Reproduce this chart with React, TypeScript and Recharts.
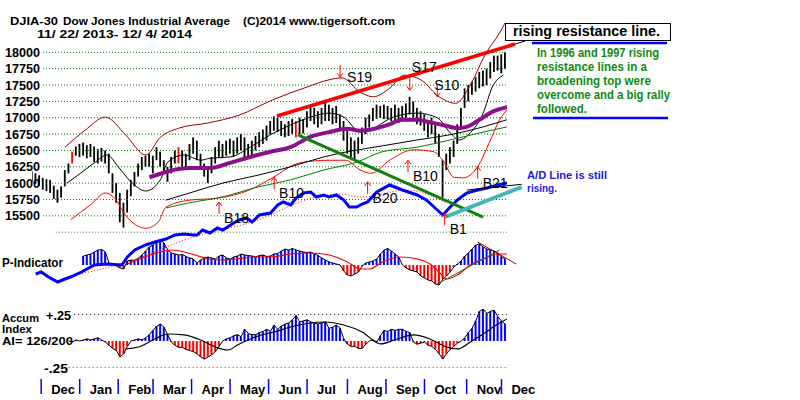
import { ComposedChart, Bar, Line, XAxis, YAxis, ReferenceLine, ReferenceDot } from 'recharts'

// DJIA-30 daily sessions, day 0 = 11/22/2013 ... day 259 = 12/4/2014
const LAST_DAY = 259

const monthStartDay = [5, 26, 47, 66, 87, 108, 129, 150, 172, 193, 214, 237, 256]
const monthLabels = ['Dec', 'Jan', 'Feb', 'Mar', 'Apr', 'May', 'Jun', 'Jul', 'Aug', 'Sep', 'Oct', 'Nov', 'Dec']

// high / low bars, one every 2nd session from day 0
const priceHigh = [
  16180, 16150, 16120, 16080, 16060, 16050, 15960, 15900, 15950, 16200,
  16300, 16480, 16560, 16600, 16620, 16580, 16600, 16560, 16520, 16540,
  16500, 16450, 16150, 16000, 15850, 15700, 15900, 16050, 16170, 16300,
  16400, 16420, 16450, 16420, 16550, 16480, 16350, 16250, 16400, 16500,
  16550, 16500, 16450, 16600, 16700, 16650, 16450, 16300, 16200, 16400,
  16550, 16650, 16600, 16650, 16680, 16650, 16700, 16750, 16700, 16600,
  16650, 16720, 16780, 16820, 16880, 16950, 17020, 17000, 16950, 16900,
  16950, 16980, 16950, 17000, 16980, 17100, 17200, 17150, 17100, 17150,
  17230, 17200, 17150, 17180, 17050, 16950, 16800, 16700, 16650, 16700,
  16850, 17000, 17050, 17150, 17200, 17180, 17200, 17180, 17150, 17200,
  17150, 17180, 17220, 17320, 17250, 17150, 17100, 17050, 16950, 17000,
  16900, 16750, 16350, 16450, 16550, 16650, 16900, 17150, 17450, 17500,
  17550, 17620, 17700, 17720, 17750, 17850, 17950, 17950, 17970, 18000,
]
const priceLow = [
  16020, 15990, 15960, 15900, 15880, 15850, 15760, 15700, 15780, 15950,
  16150, 16300, 16420, 16400, 16420, 16380, 16400, 16320, 16300, 16330,
  16300, 16150, 15850, 15700, 15400, 15320, 15550, 15800, 15950, 16100,
  16200, 16250, 16250, 16150, 16350, 16250, 16150, 16020, 16150, 16300,
  16300, 16250, 16200, 16350, 16450, 16350, 16200, 16100, 16000, 16150,
  16300, 16400, 16380, 16420, 16450, 16400, 16450, 16500, 16350, 16380,
  16420, 16500, 16550, 16600, 16650, 16750, 16800, 16780, 16720, 16700,
  16720, 16750, 16700, 16750, 16760, 16850, 16950, 16900, 16850, 16900,
  16950, 16950, 16900, 16920, 16800, 16650, 16450, 16400, 16350, 16450,
  16600, 16750, 16850, 16950, 16980, 17000, 16980, 16980, 16950, 16950,
  16920, 16950, 16980, 17050, 17000, 16900, 16880, 16800, 16700, 16750,
  16600, 16400, 15780, 16200, 16300, 16400, 16600, 16850, 17150, 17250,
  17350, 17400, 17450, 17480, 17500, 17600, 17700, 17720, 17680, 17750,
]
const redBarDays = [22, 80, 144]

const priceGrid = [18000, 17750, 17500, 17250, 17000, 16750, 16500, 16250, 16000, 15750, 15500]

// [day, value]
const upperBand: [number, number][] = [
  [18, 16550], [29, 16810], [40, 17010], [51, 16740], [62, 16430], [70, 16700], [80, 16840],
  [96, 16920], [113, 17040], [131, 17270], [150, 17470], [162, 17580], [169, 17610], [179, 17390],
  [186, 17320], [195, 17450], [203, 17650], [212, 17580], [222, 17320], [231, 17220], [239, 17500],
  [247, 17960], [255, 18300], [258, 18450],
]
const lowerBand: [number, number][] = [
  [21, 15440], [32, 15670], [40, 15850], [45, 15770], [51, 15510], [62, 15310], [69, 15410],
  [73, 15630], [86, 15740], [101, 15770], [119, 15900], [131, 16080], [146, 16310], [162, 16350],
  [171, 16350], [179, 16200], [185, 16150], [195, 16350], [208, 16510], [219, 16480], [224, 16350],
  [230, 16090], [235, 16080], [243, 16250], [250, 16660], [255, 16970], [259, 17120],
]
const shortMA: [number, number][] = [
  [19, 16000], [25, 16120], [34, 16310], [41, 16430], [47, 16250], [54, 16020], [62, 15880],
  [70, 16050], [74, 16320], [83, 16430], [92, 16350], [97, 16380], [108, 16400], [119, 16550],
  [130, 16740], [141, 16890], [152, 17010], [162, 17070], [170, 17010], [179, 16780], [184, 16810],
  [197, 17010], [210, 17070], [221, 17000], [228, 16770], [233, 16660], [239, 16770], [246, 17070],
  [251, 17470], [257, 17650],
]
const midMA: [number, number][] = [
  [64, 16090], [86, 16230], [97, 16230], [108, 16310], [119, 16400], [130, 16480], [141, 16550],
  [152, 16710], [162, 16780], [172, 16830], [179, 16800], [194, 16890], [202, 16970], [210, 16970],
  [217, 16930], [224, 16890], [232, 16840], [237, 16860], [244, 16970], [251, 17090], [259, 17160],
]
const longBlack: [number, number][] = [
  [73, 15740], [86, 15850], [104, 16000], [123, 16120], [141, 16250], [159, 16400], [172, 16480],
  [191, 16570], [210, 16660], [228, 16740], [246, 16860], [259, 16970],
]
const longGreen: [number, number][] = [
  [73, 15620], [86, 15700], [104, 15790], [123, 15940], [141, 16050], [159, 16200], [177, 16320],
  [191, 16480], [210, 16550], [228, 16660], [246, 16780], [259, 16860],
]

// NYSE A/D line (relative units) and its moving average
const adLine: [number, number][] = [
  [2, -47], [5, -46], [9, -48.5], [14, -51], [18, -49.5], [21, -48.5], [27, -46], [34, -42.5],
  [41, -42], [49, -42.5], [52, -38.5], [56, -35], [62, -32.5], [67, -31], [73, -29.5], [78, -27.5],
  [83, -27], [88, -27.5], [90, -27.5], [93, -25], [97, -26.5], [101, -24], [104, -25], [110, -21.5],
  [113, -20], [117, -19], [120, -21], [124, -17.5], [130, -16.5], [134, -12.5], [137, -11],
  [141, -12.5], [144, -9], [148, -6.5], [152, -6], [155, -8.5], [159, -7.5], [162, -8.5], [166, -7.5],
  [170, -10], [173, -13.5], [177, -13.5], [180, -12], [183, -11], [188, -6], [195, -2.5], [202, -5],
  [210, -7.5], [215, -10], [221, -15], [224, -17.5], [228, -13.5], [232, -10], [237, -6.5], [243, -5],
  [248, -4], [254, -2.5], [259, -1.5],
]
const adAverage: [number, number][] = [
  [21, -48], [52, -41], [88, -28.5], [120, -21], [155, -8.5], [168, -7], [179, -8.5], [205, -5],
  [219, -8.5], [226, -11.5],
]

// P-Indicator, every 2nd session from day 28
const P_FIRST_DAY = 28
const pIndicator = [
  90, 100, 110, 130, 150, 155, 130, 20, 5, -10,
  -30, -40, 40, 50, 45, 70, 100, 140, 180, 200,
  230, 250, 220, 150, 120, 110, 100, 105, 85, 70,
  60, 20, 50, 70, 80, 70, 60, 90, 100, 70,
  60, 80, 90, 110, 100, 95, 90, 80, 95, 100,
  85, 90, 110, 115, 140, 160, 150, 165, 150, 140,
  130, 125, 130, 110, 95, 70, 50, 30, 20, 10,
  0, -60, -100, -110, -90, -70, -10, 20, 30, 40,
  60, 110, 150, 165, 140, 110, 80, 0, -30, -50,
  -60, -70, -110, -130, -150, -160, -190, -200, -140, -110,
  -70, -20, 10, 40, 90, 120, 160, 200, 210, 180,
  160, 150, 140, 120, 80, 60,
]
const pAverage: [number, number][] = [
  [52, 10], [70, 130], [76, 150], [83, 130], [89, 100], [96, 60], [103, 50], [111, 60], [122, 80],
  [130, 80], [141, 110], [152, 120], [162, 100], [172, 30], [179, -40], [184, -40], [191, 30],
  [201, 80], [210, 60], [217, 10], [222, -70], [226, -140], [232, -100], [239, 0], [246, 60],
  [254, 110], [259, 110],
]

// Accumulation Index, every 2nd session from day 20
const AI_FIRST_DAY = 20
const accumIndex = [
  0.0, -0.01, 0.01, 0.0, 0.01, 0.02, 0.01, 0.02, 0.03, 0.01,
  -0.01, -0.04, -0.07, -0.09, -0.15, -0.12, -0.05, 0.0, 0.01, 0.02,
  0.01, 0.03, 0.06, 0.1, 0.14, 0.16, 0.13, 0.06, -0.01, -0.04,
  -0.06, -0.06, -0.08, -0.09, -0.1, -0.12, -0.15, -0.17, -0.15, -0.13,
  -0.1, -0.05, 0.0, 0.02, 0.03, 0.05, 0.06, 0.04, 0.11, 0.07,
  0.06, 0.06, 0.08, 0.09, 0.11, 0.09, 0.15, 0.11, 0.14, 0.16,
  0.17, 0.2, 0.24, 0.18, 0.19, 0.2, 0.18, 0.17, 0.16, 0.17,
  0.18, 0.12, 0.13, 0.15, 0.12, 0.02, -0.03, -0.05, -0.05, -0.07,
  -0.07, -0.03, 0.0, 0.01, -0.01, 0.05, 0.1, 0.09, 0.11, 0.1,
  0.11, 0.11, 0.09, 0.08, -0.01, -0.03, -0.02, -0.01, -0.04, -0.05,
  -0.08, -0.12, -0.17, -0.12, -0.08, -0.05, -0.02, 0.0, 0.03, 0.08,
  0.12, 0.19, 0.28, 0.3, 0.26, 0.28, 0.29, 0.23, 0.19, 0.16,
]
const aiAverage: [number, number][] = [
  [51, -0.075], [58, -0.057], [67, 0.019], [74, 0.066], [83, 0.057], [92, 0.009], [100, -0.057],
  [107, -0.085], [112, -0.038], [119, 0.019], [125, 0.057], [132, 0.085], [141, 0.132], [159, 0.179],
  [170, 0.151], [180, 0.085], [190, -0.028], [199, 0.019], [208, 0.057], [217, 0.019], [226, -0.057],
  [232, -0.075], [239, -0.009], [246, 0.066], [254, 0.16], [259, 0.208],
]

// TigerSoft signals: name, day, price at arrow tip
const signalNames = ['S19', 'S17', 'S10', 'B18', 'B10', 'B20', 'B10', 'B21', 'B1']
const signalDays = [168, 206, 221, 102, 132, 183, 205, 243, 225]
const signalLevels = [17620, 17420, 17320, 15710, 16090, 16020, 16350, 16250, 15540]

const FONT = 'Arial, "Liberation Sans", sans-serif'
const DAY_DOMAIN: [number, number] = [0, LAST_DAY]
const sellLabelOffset: Record<string, [number, number]> = { S19: [7, 5], S17: [2, -18], S10: [-3, -7] }

type Row = Record<string, any>
const blankRows = (): Row[] => Array.from({ length: LAST_DAY + 1 }, (_, i) => ({ i }))
const fill = (rows: Row[], key: string, pts: [number, number][]) => {
  pts.forEach(([d, v]) => { rows[d][key] = v })
}

const priceRows = blankRows()
priceHigh.forEach((h, k) => { priceRows[k * 2].range = [priceLow[k], h] })
fill(priceRows, 'upper', upperBand)
fill(priceRows, 'lower', lowerBand)
fill(priceRows, 'short', shortMA)
fill(priceRows, 'mid', midMA)
fill(priceRows, 'longB', longBlack)
fill(priceRows, 'longG', longGreen)
fill(priceRows, 'ad', adLine)
fill(priceRows, 'adAvg', adAverage)

const pRows = blankRows()
pIndicator.forEach((v, k) => { pRows[P_FIRST_DAY + k * 2].p = v })
fill(pRows, 'pAvg', pAverage)

const aiRows = blankRows()
accumIndex.forEach((v, k) => { aiRows[AI_FIRST_DAY + k * 2].ai = v })
fill(aiRows, 'aiAvg', aiAverage)

const PriceBar = (props: any) => {
  const d = props.payload
  if (!d || !d.range || !isFinite(props.y)) return <g />
  const top = Math.min(props.y, props.y + props.height)
  const red = redBarDays.includes(d.i)
  return <rect x={props.x + props.width / 2 - 0.9} y={top} width={1.8} height={Math.abs(props.height)} fill={red ? '#FF0000' : '#000'} />
}

const signedBar = (key: string) => (props: any) => {
  const d = props.payload
  if (!d || d[key] == null || !isFinite(props.y)) return <g />
  const top = Math.min(props.y, props.y + props.height)
  return (
    <rect x={props.x + props.width / 2 - 1} y={top} width={2} height={Math.abs(props.height)}
      fill={d[key] >= 0 ? '#0000FF' : '#FF0000'} />
  )
}

const PriceTick = (props: any) => (
  <text x={5} y={props.y + 4.5} fontSize={13} fontWeight="bold" fontFamily={FONT} fill="#000"
    textLength={35} lengthAdjust="spacingAndGlyphs">{props.payload.value}</text>
)

const MonthTick = (props: any) => {
  const idx = monthStartDay.indexOf(props.payload.value)
  return (
    <g>
      <line x1={props.x} y1={89} x2={props.x} y2={104} stroke="#0000FF" strokeWidth={1.5} />
      <text x={props.x + 10} y={104} fontSize={13} fontWeight="bold" fontFamily={FONT} fill="#000">{monthLabels[idx]}</text>
    </g>
  )
}

const signalShape = (k: number) => (props: any) => {
  const { cx, cy } = props
  const name = signalNames[k]
  const sell = name[0] === 'S'
  const tail = sell ? cy - 12 : cy + 12
  const head = sell ? -4 : 4
  const [dx, dy] = sell ? sellLabelOffset[name] : [5, 21]
  return (
    <g>
      <line x1={cx} y1={cy} x2={cx} y2={tail} stroke="#FF0000" strokeWidth={1} />
      <polyline points={`${cx - 3},${cy + head} ${cx},${cy} ${cx + 3},${cy + head}`} fill="none" stroke="#FF0000" strokeWidth={1} />
      <text x={cx + dx} y={cy + dy} fontSize={14} fontFamily={FONT} fill="#000">{name}</text>
    </g>
  )
}

const Txt = ({ x, y, w, size = 12, color = '#000', bold = true, children }: any) => (
  <text x={x} y={y} fontSize={size} fontWeight={bold ? 'bold' : 'normal'} fontFamily={FONT} fill={color}
    textLength={w} lengthAdjust="spacingAndGlyphs">{children}</text>
)

const lineProps = { dot: false, connectNulls: true, isAnimationActive: false, activeDot: false }

export default function App() {
  return (
    <div style={{ position: 'relative', width: 800, height: 400, background: '#fff', overflow: 'hidden' }}>
      <style>{'body{margin:0}'}</style>

      {/* Accumulation Index */}
      <div style={{ position: 'absolute', left: 0, top: 290 }}>
        <ComposedChart width={800} height={110} data={aiRows} margin={{ top: 0, right: 293, bottom: 0, left: 32 }}>
          <XAxis type="number" dataKey="i" domain={DAY_DOMAIN} allowDataOverflow ticks={monthStartDay} interval={0}
            tick={<MonthTick />} axisLine={false} tickLine={false} height={22} />
          <YAxis domain={[-0.349, 0.481]} allowDataOverflow hide />
          <ReferenceLine segment={[{ x: 23, y: 0.25 }, { x: LAST_DAY, y: 0.25 }]} stroke="#000" strokeDasharray="1 3" />
          <ReferenceLine segment={[{ x: 20, y: -0.25 }, { x: LAST_DAY, y: -0.25 }]} stroke="#B03060" strokeDasharray="1 3" />
          <Bar dataKey="ai" shape={signedBar('ai')} isAnimationActive={false} />
          <Line dataKey="ai" stroke="#000" strokeWidth={1} type="linear" {...lineProps} />
          <Line dataKey="aiAvg" stroke="#000" strokeWidth={1.2} type="monotone" {...lineProps} />
        </ComposedChart>
      </div>

      {/* P-Indicator */}
      <div style={{ position: 'absolute', left: 0, top: 230 }}>
        <ComposedChart width={800} height={70} data={pRows} margin={{ top: 0, right: 293, bottom: 0, left: 32 }}>
          <XAxis type="number" dataKey="i" domain={DAY_DOMAIN} allowDataOverflow hide />
          <YAxis domain={[-350, 350]} allowDataOverflow hide />
          <Bar dataKey="p" shape={signedBar('p')} isAnimationActive={false} />
          <Line dataKey="p" stroke="#000" strokeWidth={1} type="linear" {...lineProps} />
          <Line dataKey="pAvg" stroke="#FF0000" strokeWidth={1.2} type="monotone" {...lineProps} />
          <ReferenceLine segment={[{ x: 221, y: -190 }, { x: 255, y: 150 }]} stroke="#008000" ifOverflow="visible" />
          <ReferenceLine segment={[{ x: 243, y: 230 }, { x: 264, y: 10 }]} stroke="#990000" ifOverflow="visible" />
        </ComposedChart>
      </div>

      {/* Price + A/D line */}
      <div style={{ position: 'absolute', left: 0, top: 0 }}>
        <ComposedChart width={800} height={300} data={priceRows} margin={{ top: 0, right: 293, bottom: 0, left: 0 }}>
          <XAxis type="number" dataKey="i" domain={DAY_DOMAIN} allowDataOverflow hide />
          <YAxis yAxisId="price" domain={[14213, 18800]} allowDataOverflow ticks={priceGrid} interval={0} width={32}
            axisLine={false} tickLine={false} tick={<PriceTick />} />
          <YAxis yAxisId="ad" domain={[-60, 90]} allowDataOverflow hide />
          {priceGrid.map((v) => (
            <ReferenceLine key={v} yAxisId="price" segment={[{ x: 6, y: v }, { x: LAST_DAY, y: v }]} stroke="#008000" strokeDasharray="1 2" />
          ))}
          <ReferenceLine yAxisId="price" segment={[{ x: 13, y: 15250 }, { x: LAST_DAY, y: 15250 }]} stroke="#408040" strokeDasharray="1 2" />
          <Bar yAxisId="price" dataKey="range" shape={<PriceBar />} isAnimationActive={false} />
          <Line yAxisId="price" dataKey="upper" stroke="#990000" strokeWidth={1} type="monotone" {...lineProps} />
          <Line yAxisId="price" dataKey="lower" stroke="#FF0000" strokeWidth={1} type="monotone" {...lineProps} />
          <Line yAxisId="price" dataKey="short" stroke="#000" strokeWidth={1} type="monotone" {...lineProps} />
          <Line yAxisId="price" dataKey="longB" stroke="#000" strokeWidth={1} type="monotone" {...lineProps} />
          <Line yAxisId="price" dataKey="longG" stroke="#008000" strokeWidth={1} type="monotone" {...lineProps} />
          <Line yAxisId="price" dataKey="mid" stroke="#8B108B" strokeWidth={4} type="monotone" {...lineProps} />
          <Line yAxisId="ad" dataKey="adAvg" stroke="#FF0000" strokeWidth={1} strokeDasharray="1 2" type="monotone" {...lineProps} />
          <Line yAxisId="ad" dataKey="ad" stroke="#0000FF" strokeWidth={3} type="linear" {...lineProps} />
          <ReferenceLine yAxisId="price" segment={[{ x: 133.6, y: 17026 }, { x: 263.4, y: 18127 }]} stroke="#FF0000" strokeWidth={3.5} ifOverflow="visible" />
          <ReferenceLine yAxisId="price" segment={[{ x: 263.4, y: 18127 }, { x: 268.9, y: 18173 }]} stroke="#000" strokeWidth={1} ifOverflow="visible" />
          <ReferenceLine yAxisId="price" segment={[{ x: 145, y: 16736 }, { x: 246, y: 15482 }]} stroke="#108010" strokeWidth={3} ifOverflow="visible" />
          <ReferenceLine yAxisId="price" segment={[{ x: 225.2, y: 15482 }, { x: 267, y: 15940 }]} stroke="#40B8B8" strokeWidth={4} ifOverflow="visible" />
          <ReferenceLine yAxisId="price" segment={[{ x: 237.2, y: 15895 }, { x: 267, y: 15982 }]} stroke="#000" strokeWidth={1} ifOverflow="visible" />
          {signalNames.map((n, k) => (
            <ReferenceDot key={k} yAxisId="price" x={signalDays[k]} y={signalLevels[k]} r={1} ifOverflow="visible" shape={signalShape(k)} />
          ))}
        </ComposedChart>
      </div>

      {/* text annotations */}
      <svg width={800} height={400} style={{ position: 'absolute', left: 0, top: 0, pointerEvents: 'none' }}>
        <Txt x={10} y={25} w={48} size={11}>DJIA-30</Txt>
        <Txt x={63} y={25} w={167} size={11}>Dow Jones Industrial Average</Txt>
        <Txt x={243} y={25} w={152} size={11}>(C)2014 www.tigersoft.com</Txt>
        <Txt x={37} y={37.5} w={155} size={11}>11/ 22/ 2013- 12/ 4/ 2014</Txt>

        <rect x={505.5} y={23.5} width={165} height={17} fill="#fff" stroke="#000" strokeWidth={1} />
        <Txt x={513} y={36} w={147} size={14}>rising resistance line.</Txt>
        <line x1={532} y1={43} x2={667} y2={43} stroke="#0000FF" strokeWidth={2.5} />
        <Txt x={537} y={57} w={122} color="#108A10">In 1996 and 1997 rising</Txt>
        <Txt x={537} y={71} w={110} color="#108A10">resistance lines in a</Txt>
        <Txt x={537} y={85} w={114} color="#108A10">broadening top were</Txt>
        <Txt x={537} y={99} w={133} color="#108A10">overcome and a big rally</Txt>
        <Txt x={537} y={113} w={50} color="#108A10">followed.</Txt>
        <line x1={533} y1={118} x2={668} y2={118} stroke="#0000FF" strokeWidth={2.5} />

        <Txt x={527} y={179} w={80} size={11} color="#2020E0">A/D Line is still</Txt>
        <Txt x={527} y={192} w={30} size={11} color="#2020E0">rising.</Txt>

        <Txt x={2} y={267} w={61}>P-Indicator</Txt>
        <Txt x={2} y={322} w={37} size={10.5}>Accum</Txt>
        <Txt x={2} y={333} w={30} size={10.5}>Index</Txt>
        <Txt x={2} y={345} w={71} size={11}>AI= 126/200</Txt>
        <Txt x={46} y={320} w={25}>+.25</Txt>
        <Txt x={44} y={373} w={24}>-.25</Txt>
      </svg>
    </div>
  )
}
